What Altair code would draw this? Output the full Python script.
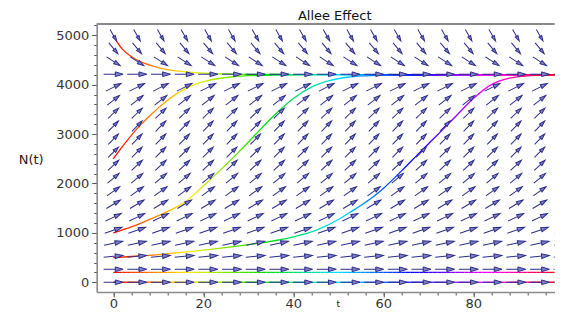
import math
import altair as alt
import pandas as pd

# ---- direction field grid ----
t_grid = [0, 5.26, 10.53, 15.79, 21.05, 26.32, 31.58, 36.84, 42.11, 47.37,
          52.63, 57.89, 63.16, 68.42, 73.68, 78.95, 84.21, 89.47, 94.74, 100]
n_grid = [0, 263, 526, 789, 1053, 1316, 1579, 1842, 2105, 2368,
          2632, 2895, 3158, 3421, 3684, 3947, 4211, 4474, 4737, 5000]
# dN/dt estimated per row of arrows
row_slope = [0, 0, 8, 19, 31, 43, 55, 66, 77, 85,
             91, 94, 94, 88, 71, 46, 0, -59, -109, -158]

# ---- solution curves ----
c5000_t = [0, 1, 2, 4, 6, 9, 12, 16, 20, 25, 30, 40, 60, 100]
c5000_n = [5000, 4840, 4720, 4570, 4465, 4370, 4305, 4260, 4235, 4218, 4210, 4205, 4202, 4200]
c2500_t = [0, 2, 4, 6, 8, 10, 12, 15, 18, 21, 25, 30, 40, 100]
c2500_n = [2500, 2745, 2975, 3180, 3360, 3530, 3680, 3870, 4000, 4080, 4145, 4182, 4198, 4200]
c1000_t = [0, 4, 8, 12, 16, 20, 24, 28, 32, 36, 40, 44, 48, 52, 56, 60, 100]
c1000_n = [1000, 1120, 1270, 1430, 1630, 1950, 2290, 2650, 3030, 3400, 3720, 3950, 4080, 4150, 4180, 4195, 4200]
c500_t = [0, 10, 20, 30, 40, 45, 50, 53, 57, 60, 64, 68, 72, 76, 80, 84, 88, 92, 96, 100]
c500_n = [500, 560, 650, 760, 920, 1050, 1270, 1440, 1680, 1900, 2250, 2620, 2980, 3350, 3720, 4000, 4130, 4180, 4195, 4200]
flat_t = list(range(0, 101))
flat_levels = [0, 200]
title_text = ["Allee Effect"]

W, H = 458, 268
PX_PER_T = 4.5
X_DOM = [-3.7, -3.7 + W / PX_PER_T]
Y_DOM = [-197, 5228]

hue_dom = [0, 16.67, 33.33, 50, 66.67, 83.33, 100]
hue_rng = ["#ff0000", "#ffee00", "#00e000", "#00e0ff", "#0000ff", "#ff00ff", "#ff0000"]

# ---- arrow table ----
kx = W / (X_DOM[1] - X_DOM[0])
ky = H / (Y_DOM[1] - Y_DOM[0])
rows = []
for n, s in zip(n_grid, row_slope):
    th = math.atan(s * ky / kx)
    L = 19.5 / math.sqrt(math.cos(th) ** 2 + (1.6 * math.sin(th)) ** 2)
    for t in t_grid:
        rows.append({"t": t, "N": n, "ang": (-math.degrees(th)) % 360, "size": L * L})
arrows_df = pd.DataFrame(rows)

curves = []
for name, ts, ns in [("5000", c5000_t, c5000_n), ("2500", c2500_t, c2500_n),
                     ("1000", c1000_t, c1000_n), ("500", c500_t, c500_n)]:
    for t, n in zip(ts, ns):
        curves.append({"curve": name, "t": t, "N": n})
curves_df = pd.DataFrame(curves)

segs = []
for lev in flat_levels:
    for a, b in zip(flat_t[:-1], flat_t[1:]):
        segs.append({"t": a, "t2": b, "N": lev, "tm": (a + b) / 2})
segs_df = pd.DataFrame(segs)

xs = alt.Scale(domain=X_DOM, nice=False, zero=False)
ys = alt.Scale(domain=Y_DOM, nice=False, zero=False)

grad = alt.Gradient(
    gradient="linear",
    stops=[alt.GradientStop(offset=o / 100, color=c) for o, c in zip(hue_dom, hue_rng)],
    x1=0, x2=1, y1=0, y2=0,
)

FRAME = "#8a8a8a"
minor_x = alt.Axis(values=list(range(0, 104, 4)), labels=False, tickSize=3, domain=False,
                   grid=False, title=None, orient="bottom", tickColor="#555")
minor_y = alt.Axis(values=list(range(0, 5201, 200)), labels=False, tickSize=3, domain=False,
                   grid=False, title=None, orient="left", tickColor="#555")

curve_layer = alt.Chart(curves_df).mark_line(color=grad, strokeWidth=1.3, interpolate="monotone",
                                             clip=True).encode(
    x=alt.X("t:Q", scale=xs, axis=minor_x),
    y=alt.Y("N:Q", scale=ys, axis=minor_y),
    detail="curve:N",
)

flat_layer = alt.Chart(segs_df).mark_rule(strokeWidth=1.3, clip=True).encode(
    x=alt.X("t:Q", scale=xs, axis=None),
    x2="t2:Q",
    y=alt.Y("N:Q", scale=ys, axis=None),
    color=alt.Color("tm:Q", scale=alt.Scale(domain=hue_dom, range=hue_rng, interpolate="rgb"), legend=None),
)

# top edge of the box frame
top_frame = alt.Chart(pd.DataFrame({"k": [0]})).mark_rule(color=FRAME, strokeWidth=2).encode(
    x=alt.value(0), x2=alt.value(W), y=alt.value(0)
)

# chart title, placed above the plot
title_layer = alt.Chart(pd.DataFrame({"label": title_text})).mark_text(
    font="DejaVu Sans", fontSize=13, color="#111", align="center", baseline="alphabetic"
).encode(x=alt.value(W / 2 + 9), y=alt.value(-4.3), text="label:N")

arrow_path = "M-1,0L0.25,0M1,0L0.2,-0.24L0.2,0.24Z"
arrow_layer = alt.Chart(arrows_df).mark_point(
    shape=arrow_path, filled=True, fill="#8080c4", stroke="#2c2c8c", strokeWidth=1,
    opacity=1, fillOpacity=1, strokeOpacity=1, clip=True,
).encode(
    x=alt.X("t:Q", scale=xs, axis=alt.Axis(
        values=[0, 20, 40, 60, 80, 100], format="d", tickSize=5, domain=True, domainColor=FRAME,
        domainWidth=1.6, grid=False,
        orient="bottom", title="t", titleFontSize=9, titleFont="DejaVu Sans", titleFontWeight="normal",
        titleColor="#222", titleX=241, titleAlign="center", titleY=15, titleBaseline="alphabetic",
        labelFont="DejaVu Sans", labelFontSize=13, labelColor="#333", labelPadding=1, tickColor="#555")),
    y=alt.Y("N:Q", scale=ys, axis=alt.Axis(
        values=[0, 1000, 2000, 3000, 4000, 5000], format="d", tickSize=5, domain=True,
        domainColor=FRAME, domainWidth=1.6, grid=False,
        orient="left", title="N(t)", titleAngle=0, titleX=-66, titleY=136, titleAlign="center",
        titleBaseline="middle", titleFontSize=13, titleFont="DejaVu Sans", titleFontWeight="normal",
        titleColor="#222", labelFont="DejaVu Sans", labelFontSize=13, labelColor="#333",
        labelPadding=3, tickColor="#555")),
    angle=alt.Angle("ang:Q", scale=None),
    size=alt.Size("size:Q", scale=None),
)

chart = alt.layer(curve_layer, flat_layer, arrow_layer, top_frame, title_layer).resolve_axis(
    x="independent", y="independent"
).resolve_scale(color="independent").properties(
    width=W, height=H,
    autosize=alt.AutoSizeParams(type="none"),
    padding={"left": 88.7, "top": 16, "right": 0, "bottom": 18},
).configure_view(stroke=None)

chart.save("out.html", embed_options={"renderer": "svg", "actions": False})
